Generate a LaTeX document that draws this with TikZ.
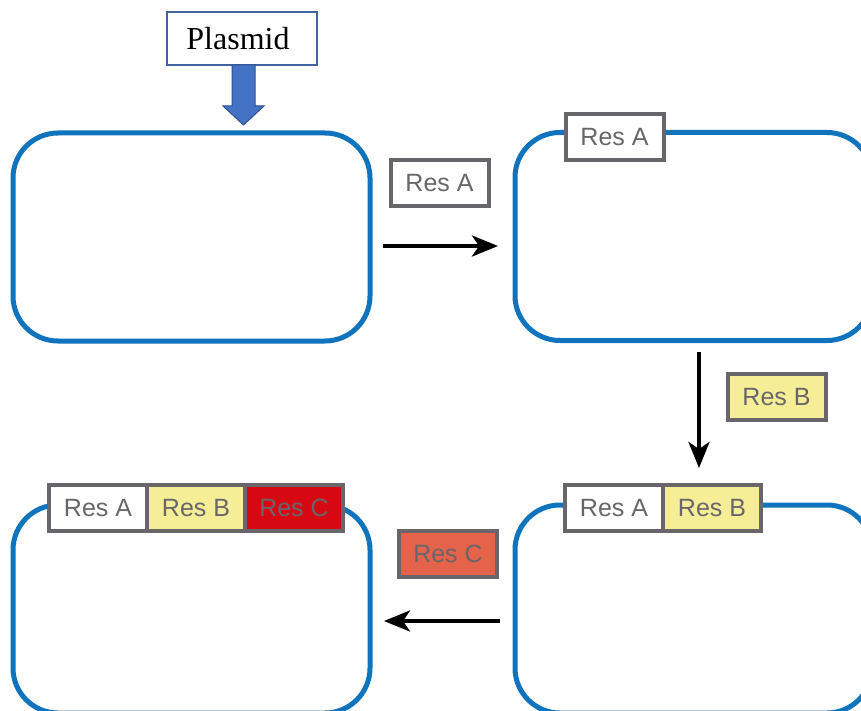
\documentclass[tikz,border=0pt]{standalone}
\usepackage{fontspec}
\setmainfont{Liberation Serif}
\newfontfamily\tagfont{Liberation Sans}
\usetikzlibrary{arrows.meta}
\definecolor{plblue}{RGB}{16,115,190}
\definecolor{tgray}{RGB}{105,102,107}
\definecolor{tyellow}{RGB}{245,238,150}
\definecolor{tred}{RGB}{216,8,18}
\definecolor{torange}{RGB}{229,99,74}
\definecolor{fatfill}{RGB}{68,114,196}
\definecolor{fatdraw}{RGB}{47,82,143}
\definecolor{labdraw}{RGB}{65,100,160}
\tikzset{
  cellbox/.style={draw=plblue, line width=5pt, rounded corners=45pt, minimum width=357pt, minimum height=208pt, inner sep=0pt, outer sep=0pt},
  tagbox/.style={draw=tgray, line width=4pt, text=tgray, font=\tagfont\fontsize{25}{25}\selectfont, minimum width=98pt, minimum height=46pt, inner sep=0pt, outer sep=0pt},
  flow/.style={line width=4pt, -{Stealth[length=26pt,width=21pt,inset=7pt]}},
}
\begin{document}
\begin{tikzpicture}[x=1pt,y=-1pt]
\useasboundingbox (0,0) rectangle (861,711);
\begin{scope}
\clip (0,0) rectangle (861,711);
\fill[white] (0,0) rectangle (861,711);
% plasmid boxes
\node[cellbox] (p1) at (191.5,237) {};
\node[cellbox] (p2) at (693.5,236.5) {};
\node[cellbox] (p3) at (191.5,609) {};
\node[cellbox] (p4) at (693.5,609) {};
% plasmid label
\node[draw=labdraw, line width=1.2pt, fill=white, minimum width=150pt, minimum height=53pt, inner sep=0pt, font=\fontsize{32}{32}\selectfont] (pl) at (242,38.5) {\hspace*{-8pt}Plasmid};
% fat arrow
\draw[fill=fatfill, draw=fatdraw, line width=1pt, line join=miter]
  (232,65) -- (255,65) -- (255,106) -- (264,106) -- (243.5,125) -- (223,106) -- (232,106) -- cycle;
% tags
\node[tagbox, fill=white] (fa) at (439.5,183) {Res A};
\node[tagbox, fill=white] (ta2) at (614.5,137) {Res A};
\node[tagbox, fill=tyellow] (fb) at (776.5,397) {Res B};
\node[tagbox, fill=torange] (fc) at (448,553.5) {Res C};
\node[tagbox, fill=white] (ta4) at (614,508) {Res A};
\node[tagbox, fill=tyellow] (tb4) at (712,508) {Res B};
\node[tagbox, fill=white] (ta3) at (98,508) {Res A};
\node[tagbox, fill=tyellow] (tb3) at (196,508) {Res B};
\node[tagbox, fill=tred] (tc3) at (294,508) {Res C};
% arrows
\coordinate (a1s) at (383,246);
\coordinate (a1e) at (498,246);
\coordinate (a2s) at (699,352);
\coordinate (a2e) at (699,468);
\coordinate (a3s) at (500,621);
\coordinate (a3e) at (384,621);
\draw[flow] (a1s) -- (a1e);
\draw[flow] (a2s) -- (a2e);
\draw[flow] (a3s) -- (a3e);
\end{scope}
\end{tikzpicture}
\end{document}
